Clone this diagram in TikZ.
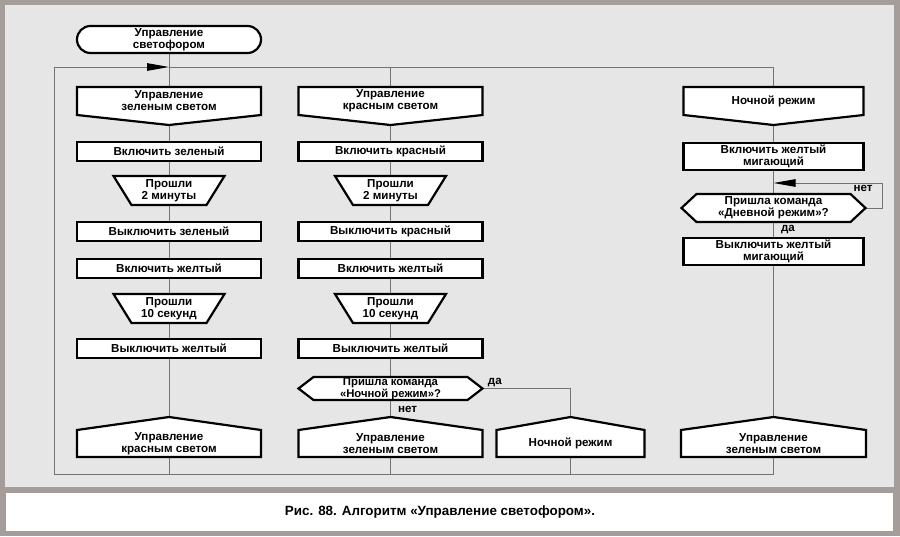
\documentclass[tikz,border=0pt]{standalone}
\usepackage{fontspec}
\setmainfont{Liberation Sans}
\usetikzlibrary{positioning,arrows.meta,backgrounds}
\definecolor{framegray}{RGB}{165,157,154}
\definecolor{panelgray}{RGB}{230,230,230}
\definecolor{linegray}{RGB}{115,115,115}

\begin{document}
\begin{tikzpicture}[x=1pt, y=-1pt, node distance=16pt and 37.5pt, >={Triangle[length=22pt,width=7.5pt,color=black]},
	block/.style={draw=black, line width=2.2pt, fill=white, rectangle, minimum width=184pt, minimum height=19pt, inner sep=0pt, outer sep=0pt, align=center, font=\fontsize{11.6}{12}\selectfont\bfseries},
	pentdown/.style={block, draw=none, fill=none, minimum height=28pt},
	pentup/.style={block, draw=none, fill=none, minimum height=27pt},
	trap/.style={block, draw=none, fill=none, minimum width=111pt, minimum height=29pt},
	hexa/.style={block, draw=none, fill=none, minimum height=23pt, font=\fontsize{11.3}{10.6}\selectfont\bfseries},
	terminal/.style={block, rounded corners=13.5pt, minimum height=27pt},
	outline/.style={draw=black, line width=2.2pt, fill=white, line join=miter},
	flow/.style={draw=linegray, line width=1pt},
	answer/.style={font=\fontsize{11.6}{12}\selectfont\bfseries, inner sep=1pt}
	]
	\useasboundingbox (0,0) rectangle (900,536);
	\begin{scope}[on background layer]
	\fill[framegray] (0,0) rectangle (900,536);
	\fill[panelgray] (5,5) rectangle (894,487);
	\fill[white] (6,493) rectangle (893,531);
	\end{scope}
	
	% green column
	\node[terminal] (start) at (169,39.5) {Управление\\светофором};
	\node[pentdown, below = 34pt of start](grnA) {Управление\\зеленым светом};
	\node[block, below = 27pt of grnA](grnOn) {Включить зеленый};
	\node[trap, below = 15pt of grnOn](min2A) {Прошли\\2 минуты};
	\node[block, below = 17pt of min2A](grnOff) {Выключить зеленый};
	\node[block, below = 18pt of grnOff](yelOnA) {Включить желтый};
	\node[trap, below = 16pt of yelOnA](sec10A) {Прошли\\10 секунд};
	\node[block, below = 16pt of sec10A](yelOffA) {Выключить желтый};
	\node[pentup, below = 72pt of yelOffA](redB) {Управление\\красным светом};
	
	% red column
	\node[pentdown, right = of grnA](redA) {Управление\\красным светом};
	\node[block, below = 27pt of redA](redOn) {Включить красный};
	\node[trap, below = 15pt of redOn](min2B) {Прошли\\2 минуты};
	\node[block, below = 17pt of min2B](redOff) {Выключить красный};
	\node[block, below = 18pt of redOff](yelOnB) {Включить желтый};
	\node[trap, below = 16pt of yelOnB](sec10B) {Прошли\\10 секунд};
	\node[block, below = 16pt of sec10B](yelOffB) {Выключить желтый};
	\node[hexa, below = 19pt of yelOffB](askN) {Пришла команда\\«Ночной режим»?};
	\node[pentup, below = 30pt of askN](grnB) {Управление\\зеленым светом};
	\node[pentup, right = 14pt of grnB, minimum width=148pt](nightB) {Ночной режим};
	
	% night column
	\node[pentdown, right = 201pt of redA, minimum width=180pt](nightA) {Ночной режим};
	\node[block, below = 28pt of nightA, minimum width=180pt, minimum height=27pt](blinkOn) {Включить желтый\\мигающий};
	\node[hexa, below = 24pt of blinkOn, minimum height=28pt, font=\fontsize{11.6}{12}\selectfont\bfseries](askD) {Пришла команда\\«Дневной режим»?};
	\node[block, below = 16pt of askD, minimum width=180pt, minimum height=27pt](blinkOff) {Выключить желтый\\мигающий};
	\node[pentup, right = 36.5pt of nightB, minimum width=185pt](grnC) {Управление\\зеленым светом};
	
	\node[font=\fontsize{13.4}{15}\selectfont\bfseries] (caption) at (440,512) {Рис. 88. Алгоритм «Управление светофором».};
	
	\coordinate (topL) at (54,67);
	\coordinate (botL) at (54,474);
	\coordinate (loopD) at (882,183);
	\coordinate (jD) at (nightA.south |- loopD);
	
	\begin{scope}[on background layer]
	\draw[flow, ->] (botL) -- (topL) -- (start.south |- topL);
	\draw[flow] (start) -- (grnA);
	\draw[flow] (start.south |- topL) -- (nightA.north |- topL) -- (nightA);
	\draw[flow] (redA.north |- topL) -- (redA);
	\draw[flow] (grnA) -- (grnOn) -- (min2A) -- (grnOff) -- (yelOnA) -- (sec10A) -- (yelOffA) -- (redB) -- (redB.south |- botL);
	\draw[flow] (botL) -- (grnC.south |- botL) -- (grnC);
	\draw[flow] (redA) -- (redOn) -- (min2B) -- (redOff) -- (yelOnB) -- (sec10B) -- (yelOffB) -- (askN) -- node[answer, pos=0.3, right, xshift=6pt]{нет} (grnB) -- (grnB.south |- botL);
	\draw[flow] (askN) -- node[answer, pos=0.14, above]{да} (askN -| nightB) -- (nightB);
	\draw[flow] (nightB) -- (nightB.south |- botL);
	\draw[flow] (nightA) -- (blinkOn) -- (askD) -- node[answer, right, xshift=6pt]{да} (blinkOff) -- (grnC);
	\draw[flow, ->] (askD) -- (loopD |- askD) -- node[answer, pos=0.8, left, xshift=-8pt]{нет} (loopD) -- (jD);
	
	\foreach \n in {grnA,redA,nightA}
		\draw[outline] (\n.north west) -- (\n.north east) -- (\n.south east) -- ([yshift=-10pt]\n.south) -- (\n.south west) -- cycle;
	\foreach \n in {redB,grnB,nightB,grnC}
		\draw[outline] (\n.south west) -- (\n.south east) -- (\n.north east) -- ([yshift=13pt]\n.north) -- (\n.north west) -- cycle;
	\foreach \n in {min2A,sec10A,min2B,sec10B}
		\draw[outline] (\n.north west) -- (\n.north east) -- ([xshift=-18pt]\n.south east) -- ([xshift=18pt]\n.south west) -- cycle;
	\foreach \n in {askN,askD}
		\draw[outline] ([xshift=15pt]\n.north west) -- ([xshift=-15pt]\n.north east) -- (\n.east) -- ([xshift=-15pt]\n.south east) -- ([xshift=15pt]\n.south west) -- (\n.west) -- cycle;
	\end{scope}
\end{tikzpicture}
\end{document}
